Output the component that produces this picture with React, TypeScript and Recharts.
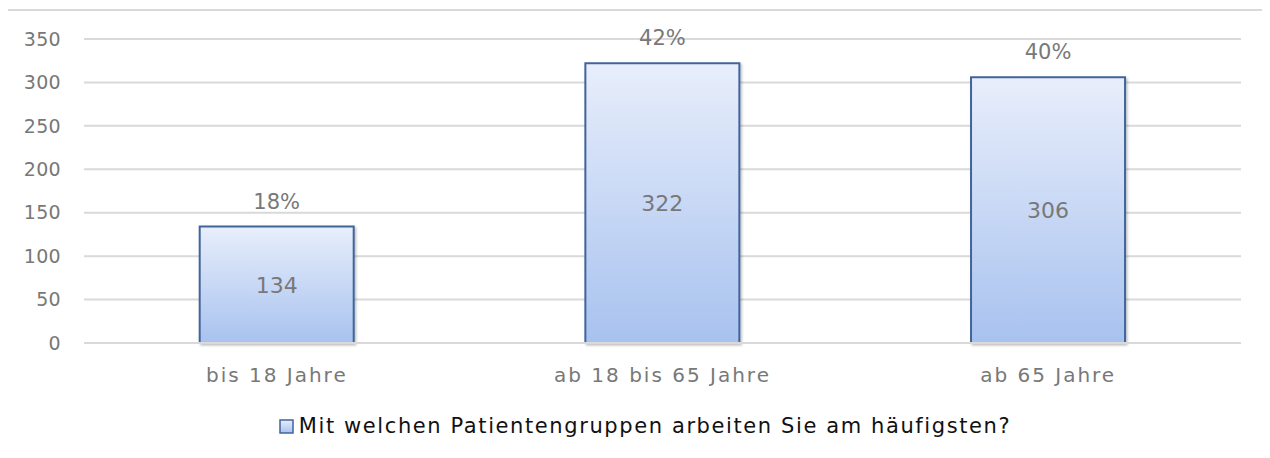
import React from 'react';
import { BarChart, Bar, XAxis, YAxis, CartesianGrid, Legend, LabelList } from 'recharts';

const categories = ['bis 18 Jahre', 'ab 18 bis 65 Jahre', 'ab 65 Jahre'];
const counts = [134, 322, 306];
const shares = ['18%', '42%', '40%'];
const yTicks = [0, 50, 100, 150, 200, 250, 300, 350];
const seriesName = 'Mit welchen Patientengruppen arbeiten Sie am häufigsten?';

const data = categories.map((name, i) => ({
    name,
    anzahl: counts[i],
    anteil: shares[i],
}));

const FONT = '"DejaVu Sans", Verdana, sans-serif';
const GREY = '#787878';

const LegendBox = () => (
    <div
        style={{
            display: 'flex',
            justifyContent: 'center',
            alignItems: 'center',
            fontFamily: FONT,
            fontSize: 21,
            color: '#111',
            letterSpacing: 1.6,
        }}
    >
        <svg width={15} height={15} style={{ marginRight: 5 }}>
            <defs>
                <linearGradient id="legGrad" x1="0" y1="0" x2="0" y2="1">
                    <stop offset="0%" stopColor="#e8eefb" />
                    <stop offset="100%" stopColor="#a8c2ef" />
                </linearGradient>
            </defs>
            <rect x={1} y={1} width={13} height={13} fill="url(#legGrad)" stroke="#41659b" strokeWidth={1.5} />
        </svg>
        <span>{seriesName}</span>
    </div>
);

const App = () => {
    return (
        <div style={{ position: 'relative', margin: -8, width: 1270, height: 458, overflow: 'hidden', background: '#fff' }}>
            <div
                style={{
                    position: 'absolute',
                    left: 6,
                    top: 9,
                    width: 1320,
                    height: 520,
                    border: '2px solid #d9d9d9',
                }}
            />
            <div style={{ position: 'absolute', left: 0, top: 0 }}>
                <BarChart
                    width={1270}
                    height={458}
                    data={data}
                    margin={{ top: 39, right: 29, left: 0, bottom: 55 }}
                    barCategoryGap="30%"
                >
                    <defs>
                        <linearGradient id="barGrad" x1="0" y1="0" x2="0" y2="1">
                            <stop offset="0%" stopColor="#e8eefb" />
                            <stop offset="100%" stopColor="#a8c2ef" />
                        </linearGradient>
                        <filter id="barShadow" x="-5%" y="-5%" width="115%" height="115%">
                            <feDropShadow dx="1.5" dy="1.5" stdDeviation="1.2" floodColor="#000" floodOpacity="0.25" />
                        </filter>
                    </defs>
                    <CartesianGrid vertical={false} stroke="#d9d9d9" strokeWidth={2} />
                    <XAxis
                        dataKey="name"
                        height={60}
                        axisLine={{ stroke: '#d9d9d9', strokeWidth: 2 }}
                        tickLine={false}
                        tickSize={0}
                        tickMargin={25}
                        tick={{ fill: GREY, fontSize: 20, fontFamily: FONT, letterSpacing: 2 }}
                    />
                    <YAxis
                        width={84}
                        domain={[0, 350]}
                        ticks={yTicks}
                        axisLine={false}
                        tickLine={false}
                        tickSize={0}
                        tickMargin={23}
                        tick={{ fill: GREY, fontSize: 19, fontFamily: FONT, letterSpacing: 0.3 }}
                    />
                    <Legend
                        layout="horizontal"
                        verticalAlign="middle"
                        align="center"
                        wrapperStyle={{ top: 414, left: 10, width: 1270 }}
                        content={() => <LegendBox />}
                    />
                    <Bar
                        dataKey="anzahl"
                        name={seriesName}
                        fill="url(#barGrad)"
                        stroke="#41659b"
                        strokeWidth={2}
                        filter="url(#barShadow)"
                        isAnimationActive={false}
                    >
                        <LabelList
                            dataKey="anzahl"
                            position="center"
                            fill={GREY}
                            fontSize={22}
                            fontFamily={FONT}
                        />
                        <LabelList
                            dataKey="anteil"
                            position="top"
                            offset={18}
                            fill={GREY}
                            fontSize={21}
                            fontFamily={FONT}
                        />
                    </Bar>
                </BarChart>
            </div>
        </div>
    );
};

export default App;
